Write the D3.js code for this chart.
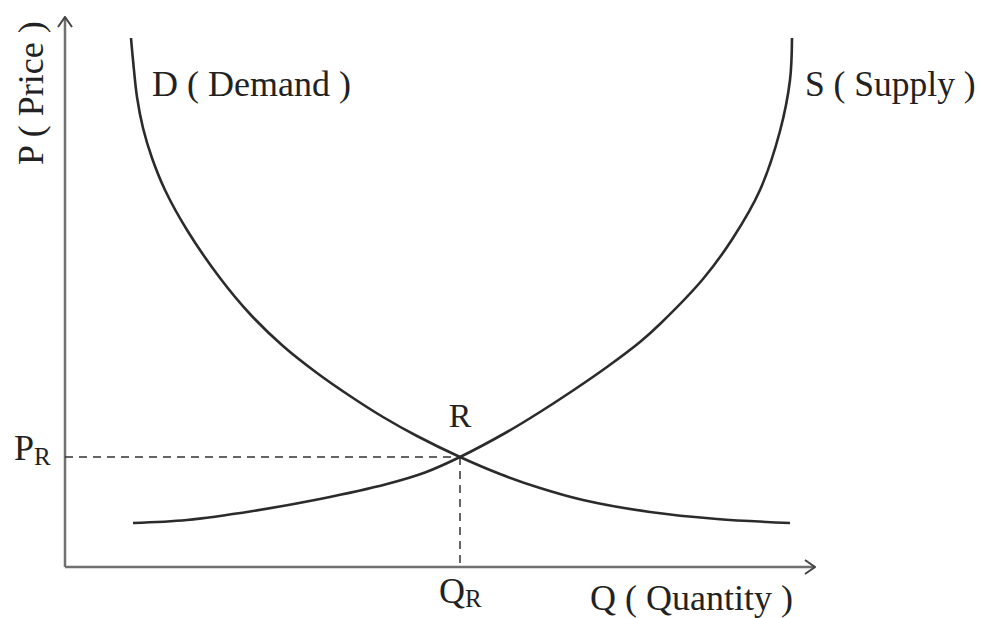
<!DOCTYPE html>
<html>
<head>
<meta charset="utf-8">
<script src="https://cdn.jsdelivr.net/npm/d3@7"></script>
<style>
  body { margin: 0; background: #fff; }
  text { font-family: "Liberation Serif", "Times New Roman", serif; fill: #222; }
</style>
</head>
<body>
<script>
// quantity / price values
const demandQ = [13.2, 13.6, 14.4, 15.6, 17.4, 20, 24.4, 31, 37, 43.6, 50.4, 57, 63.6, 70.4, 79, 87, 95, 103.6, 117, 130.4, 145];
const demandP = [105.8, 101.4, 94, 87.8, 81.8, 75.4, 67.4, 57.8, 50.6, 44.2, 38.8, 34.2, 30, 26.2, 22, 18.6, 15.8, 13.4, 11, 9.6, 8.8];
const supplyQ = [13.6, 24.4, 37.6, 51, 64.4, 72, 79, 88.4, 95, 101.6, 108.4, 115, 119, 127.6, 133.6, 139, 143, 145, 145.4];
const supplyP = [8.8, 9.4, 11.2, 13.6, 16.6, 18.9, 22, 27, 31, 35.3, 40, 45, 48.6, 57.6, 65.8, 75.4, 87.2, 97.4, 105.8];
const equilibrium = { q: 79, p: 22 };

const width = 982, height = 618;
const svg = d3.select("body").append("svg").attr("width", width).attr("height", height);

const x = d3.scaleLinear().domain([0, 150]).range([65, 815]);
const y = d3.scaleLinear().domain([0, 110]).range([567, 17]);

// open arrow heads for the axes
const defs = svg.append("defs");
defs.append("marker")
  .attr("id", "arrow")
  .attr("viewBox", "0 0 12 16")
  .attr("refX", 11).attr("refY", 8)
  .attr("markerWidth", 12).attr("markerHeight", 16)
  .attr("markerUnits", "userSpaceOnUse")
  .attr("orient", "auto")
  .append("path")
  .attr("d", "M1,1 L11,8 L1,15")
  .attr("fill", "none").attr("stroke", "#444").attr("stroke-width", 2);

// axes
svg.append("line")
  .attr("x1", x(0)).attr("y1", y(0)).attr("x2", x(0)).attr("y2", y(110))
  .attr("stroke", "#707070").attr("stroke-width", 2.5)
  .attr("marker-end", "url(#arrow)");
svg.append("line")
  .attr("x1", x(0)).attr("y1", y(0)).attr("x2", x(150)).attr("y2", y(0))
  .attr("stroke", "#707070").attr("stroke-width", 2.5)
  .attr("marker-end", "url(#arrow)");

// dashed guides to R
svg.append("line")
  .attr("x1", x(0)).attr("y1", y(equilibrium.p)).attr("x2", x(equilibrium.q)).attr("y2", y(equilibrium.p))
  .attr("stroke", "#333").attr("stroke-width", 1.5).attr("stroke-dasharray", "8,6");
svg.append("line")
  .attr("x1", x(equilibrium.q)).attr("y1", y(equilibrium.p)).attr("x2", x(equilibrium.q)).attr("y2", y(0))
  .attr("stroke", "#333").attr("stroke-width", 1.5).attr("stroke-dasharray", "8,6");

// curves
const line = d3.line().x(d => x(d[0])).y(d => y(d[1])).curve(d3.curveCatmullRom.alpha(0.5));
svg.append("path")
  .datum(d3.zip(demandQ, demandP))
  .attr("d", line)
  .attr("fill", "none").attr("stroke", "#2b2b2b").attr("stroke-width", 2.6);
svg.append("path")
  .datum(d3.zip(supplyQ, supplyP))
  .attr("d", line)
  .attr("fill", "none").attr("stroke", "#2b2b2b").attr("stroke-width", 2.6);

// labels
svg.append("text").attr("x", 152).attr("y", 96).attr("font-size", 36).text("D ( Demand )");
svg.append("text").attr("x", 805).attr("y", 96).attr("font-size", 35.5).text("S ( Supply )");
svg.append("text").attr("x", x(equilibrium.q)).attr("y", 427).attr("font-size", 34)
  .attr("text-anchor", "middle").text("R");
svg.append("text").attr("x", 590).attr("y", 610).attr("font-size", 36).text("Q ( Quantity )");
svg.append("text")
  .attr("transform", "translate(43,165) rotate(-90)")
  .attr("font-size", 36).text("P ( Price )");

const pr = svg.append("text").attr("x", 14).attr("y", 460).attr("font-size", 36);
pr.append("tspan").text("P");
pr.append("tspan").attr("font-size", 25).attr("dy", 5).text("R");

const qr = svg.append("text").attr("x", 439).attr("y", 603).attr("font-size", 36);
qr.append("tspan").text("Q");
qr.append("tspan").attr("font-size", 25).attr("dy", 4).text("R");
</script>
</body>
</html>
